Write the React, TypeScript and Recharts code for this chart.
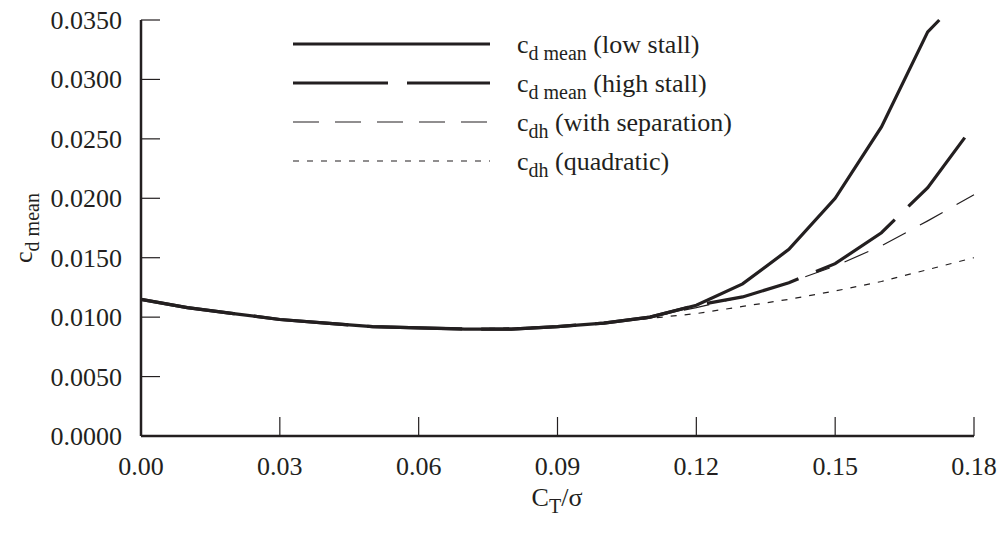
import { LineChart, Line, XAxis, YAxis } from "recharts"

// C_T/sigma sample points and cd values
const ctLow = [0, 0.01, 0.02, 0.03, 0.04, 0.05, 0.06, 0.07, 0.08, 0.09, 0.1, 0.11, 0.12, 0.13, 0.14, 0.15, 0.16, 0.17, 0.1725]
const cdLow = [0.0115, 0.0108, 0.0103, 0.0098, 0.0095, 0.0092, 0.0091, 0.009, 0.009, 0.0092, 0.0095, 0.01, 0.011, 0.0128, 0.0157, 0.02, 0.026, 0.034, 0.035]

const ctHigh = [0, 0.01, 0.02, 0.03, 0.04, 0.05, 0.06, 0.07, 0.08, 0.09, 0.1, 0.11, 0.12, 0.13, 0.14, 0.15, 0.16, 0.17, 0.178]
const cdHigh = [0.0115, 0.0108, 0.0103, 0.0098, 0.0095, 0.0092, 0.0091, 0.009, 0.009, 0.0092, 0.0095, 0.01, 0.011, 0.0117, 0.0129, 0.0145, 0.0171, 0.0209, 0.0251]

const ctDh = [0, 0.01, 0.02, 0.03, 0.04, 0.05, 0.06, 0.07, 0.08, 0.09, 0.1, 0.11, 0.12, 0.13, 0.14, 0.15, 0.16, 0.17, 0.18]
const cdSep = [0.0115, 0.0108, 0.0103, 0.0098, 0.0095, 0.0092, 0.0091, 0.009, 0.009, 0.0092, 0.0095, 0.01, 0.0108, 0.0117, 0.0129, 0.0143, 0.016, 0.0181, 0.0203]
const cdQuad = [0.0115, 0.0108, 0.0103, 0.0098, 0.0095, 0.0092, 0.0091, 0.009, 0.0091, 0.0092, 0.0095, 0.0099, 0.0103, 0.0109, 0.0115, 0.0122, 0.013, 0.014, 0.015]

const xTicks = [0, 0.03, 0.06, 0.09, 0.12, 0.15, 0.18]
const yTicks = [0, 0.005, 0.01, 0.015, 0.02, 0.025, 0.03, 0.035]

const legendItems = [
  { main: "c", sub: "d mean", rest: " (low stall)", width: 3.2, dash: undefined },
  { main: "c", sub: "d mean", rest: " (high stall)", width: 3.2, dash: "95 19" },
  { main: "c", sub: "dh", rest: " (with separation)", width: 1.2, dash: "26 16" },
  { main: "c", sub: "dh", rest: " (quadratic)", width: 1.2, dash: "6 8" },
]

const toRows = (xs: number[], ys: number[]) => xs.map((x, i) => ({ x, y: ys[i] }))

const lowData = toRows(ctLow, cdLow)
const highData = toRows(ctHigh, cdHigh)
const sepData = toRows(ctDh, cdSep)
const quadData = toRows(ctDh, cdQuad)

const W = 1003
const H = 538
const LEFT = 141
const RIGHT = 974
const TOP = 20
const BOTTOM = 436
const INK = "#231f20"
const FONT = '"Liberation Serif", "Times New Roman", "DejaVu Serif", serif'
const FS = 26
const SUB = 20
const txt = { fontFamily: FONT, fontSize: FS, fill: INK }

function YTick(props: any) {
  const { y, payload } = props
  return (
    <g>
      <line x1={LEFT} x2={LEFT + 19} y1={y} y2={y} stroke={INK} strokeWidth={1.2} />
      <text x={122} y={y + 9} textAnchor="end" style={txt}>
        {payload.value.toFixed(4)}
      </text>
    </g>
  )
}

function XTick(props: any) {
  const { x, payload } = props
  return (
    <g>
      <line x1={x} x2={x} y1={BOTTOM} y2={BOTTOM - 19} stroke={INK} strokeWidth={1.2} />
      <text x={x} y={475} textAnchor="middle" style={txt}>
        {payload.value.toFixed(2)}
      </text>
    </g>
  )
}

function LegendOverlay() {
  return (
    <svg width={W} height={H} style={{ position: "absolute", left: 0, top: 0, pointerEvents: "none" }}>
      {legendItems.map((it, i) => {
        const ly = 44 + i * 39
        return (
          <g key={i}>
            <line x1={293} x2={490} y1={ly} y2={ly} stroke={INK} strokeWidth={it.width} strokeDasharray={it.dash} />
            <text x={517} y={ly + 9} style={txt}>
              <tspan>{it.main}</tspan>
              <tspan style={{ fontSize: SUB }} dy={7}>{it.sub}</tspan>
              <tspan dy={-7}>{it.rest}</tspan>
            </text>
          </g>
        )
      })}
    </svg>
  )
}

export default function App() {
  return (
    <div style={{ position: "absolute", left: 0, top: 0, width: W, height: H, background: "#fff", fontFamily: FONT }}>
      <LineChart width={W} height={H} margin={{ top: TOP, right: W - RIGHT, bottom: 0, left: 0 }}>
        <XAxis
          type="number"
          dataKey="x"
          domain={[0, 0.18]}
          ticks={xTicks}
          tick={<XTick />}
          tickLine={false}
          axisLine={{ stroke: INK, strokeWidth: 2.5 }}
          height={H - BOTTOM}
          interval={0}
          allowDuplicatedCategory={false}
        />
        <YAxis
          type="number"
          domain={[0, 0.035]}
          ticks={yTicks}
          tick={<YTick />}
          tickLine={false}
          axisLine={{ stroke: INK, strokeWidth: 2.5 }}
          width={LEFT}
          interval={0}
        />
        <Line data={quadData} dataKey="y" type="linear" stroke={INK} strokeWidth={1.2} strokeDasharray="6 8" dot={false} isAnimationActive={false} />
        <Line data={sepData} dataKey="y" type="linear" stroke={INK} strokeWidth={1.2} strokeDasharray="26 16" dot={false} isAnimationActive={false} />
        <Line data={highData} dataKey="y" type="linear" stroke={INK} strokeWidth={3.2} strokeDasharray="95 19" dot={false} isAnimationActive={false} />
        <Line data={lowData} dataKey="y" type="linear" stroke={INK} strokeWidth={3.2} dot={false} isAnimationActive={false} />
      </LineChart>
      <svg width={W} height={H} style={{ position: "absolute", left: 0, top: 0, pointerEvents: "none" }}>
        <text transform="translate(32,228) rotate(-90)" textAnchor="middle" style={txt}>
          <tspan>c</tspan>
          <tspan style={{ fontSize: SUB }} dy={7}>d mean</tspan>
        </text>
        <text x={557} y={506} textAnchor="middle" style={txt}>
          <tspan>C</tspan>
          <tspan style={{ fontSize: SUB }} dy={7}>T</tspan>
          <tspan dy={-7}>/σ</tspan>
        </text>
      </svg>
      <LegendOverlay />
    </div>
  )
}
